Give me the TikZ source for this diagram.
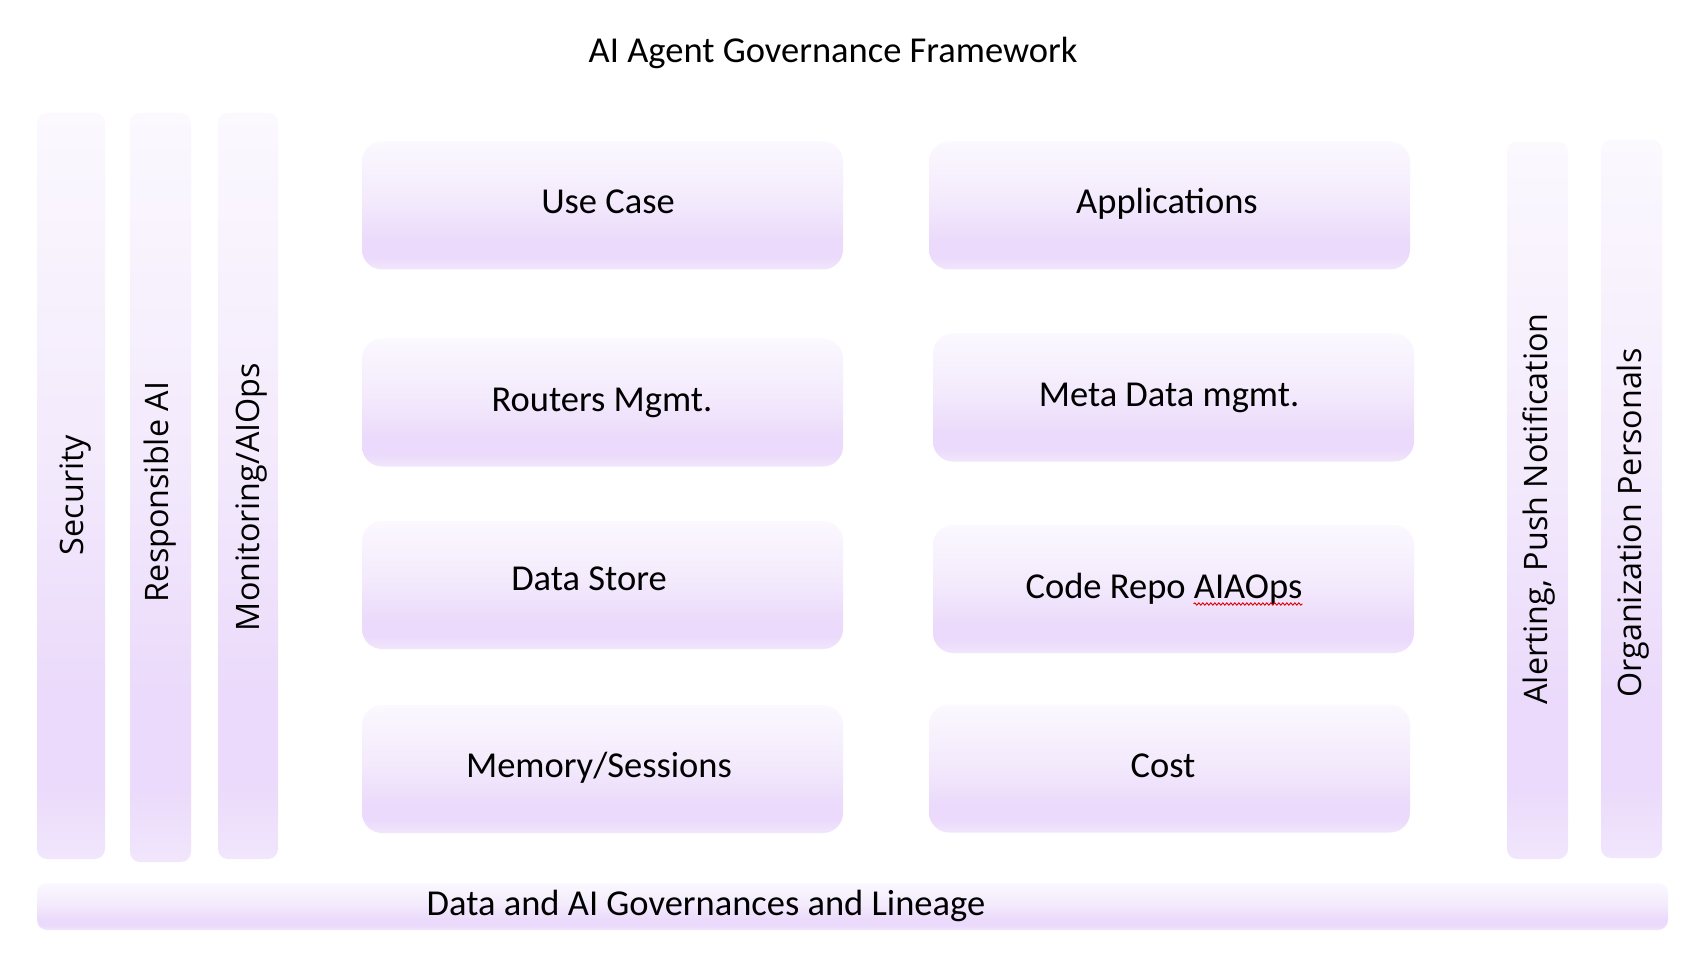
\documentclass[tikz,border=0pt]{standalone}
\usepackage{fontspec}
\setmainfont{Carlito}
\newfontfamily\vfont{Open Sans}
\usetikzlibrary{decorations.pathmorphing}
\definecolor{lavT}{HTML}{FBF8FE}
\definecolor{lavM}{HTML}{F3EAFC}
\definecolor{lavD}{HTML}{EBDAFB}
\definecolor{lavB}{HTML}{F1E6FC}
\pgfdeclareverticalshading{lavshade}{100bp}{color(0bp)=(lavB); color(25bp)=(lavB); color(30bp)=(lavD); color(36bp)=(lavD); color(52bp)=(lavM); color(75bp)=(lavT); color(100bp)=(lavT)}
\tikzset{
  panel/.style={shading=lavshade, rounded corners=20pt, inner sep=0pt, minimum width=481pt, minimum height=128pt},
  bar/.style={shading=lavshade, rounded corners=10pt, inner sep=0pt},
  lbl/.style={font=\fontsize{36.5}{41}\selectfont, text=black, inner sep=0pt, anchor=base},
  vlbl/.style={font=\vfont\fontsize{32.3}{37}\selectfont, text=black, inner sep=0pt, anchor=base, rotate=90},
  spellwave/.style={draw=red!85!black, line width=0.9pt, decorate, decoration={snake, amplitude=1.2pt, segment length=4pt}}
}
\begin{document}
\begin{tikzpicture}[x=1pt,y=-1pt]
\fill[white] (0,0) rectangle (1695,973);
\useasboundingbox (0,0) rectangle (1695,973);

% title
\node[lbl] (title) at (833,63) {AI Agent Governance Framework};

% left bars
\node[bar, minimum width=68pt, minimum height=746pt] (sec) at (71,486) {};
\node[bar, minimum width=61pt, minimum height=749pt] (resp) at (160.5,487.5) {};
\node[bar, minimum width=60pt, minimum height=746pt] (mon) at (248,486) {};
\node[vlbl] (sect) at (83,495) {Security};
\node[vlbl] (respt) at (168,492) {Responsible AI};
\node[vlbl] (mont) at (259,497) {Monitoring/AIOps};

% right bars
\node[bar, minimum width=61pt, minimum height=717pt] (alert) at (1537.5,500.5) {};
\node[bar, minimum width=61pt, minimum height=718pt] (org) at (1631.5,499) {};
\node[vlbl] (alertt) at (1547,509) {Alerting, Push Notification};
\node[vlbl] (orgt) at (1641,523) {Organization Personals};

% panels
\node[panel] (usecase) at (602.5,205.5) {};
\node[panel] (apps) at (1169.5,205.5) {};
\node[panel] (routers) at (602.5,402.5) {};
\node[panel] (meta) at (1173.5,397.5) {};
\node[panel] (datastore) at (602.5,585) {};
\node[panel] (coderepo) at (1173.5,589) {};
\node[panel] (memory) at (602.5,769) {};
\node[panel] (cost) at (1169.5,768.5) {};

\node[lbl] (usecaset) at (608,214) {Use Case};
\node[lbl] (appst) at (1167,214) {Applications};
\node[lbl] (routerst) at (602,412) {Routers Mgmt.};
\node[lbl] (metat) at (1169,407) {Meta Data mgmt.};
\node[lbl] (datastoret) at (589,590) {Data Store};
\node[lbl] (coderepot) at (1164,598) {Code Repo AIAOps};
\node[lbl] (memoryt) at (599,777) {Memory/Sessions};
\node[lbl] (costt) at (1163,777) {Cost};
\path[spellwave] ([xshift=-109pt,yshift=-6pt]coderepot.base east) -- ([yshift=-6pt]coderepot.base east);

% bottom bar
\node[bar, minimum width=1631pt, minimum height=47pt] (gov) at (852.5,906.5) {};
\node[lbl] (govt) at (706,915) {Data and AI Governances and Lineage};
\end{tikzpicture}
\end{document}
